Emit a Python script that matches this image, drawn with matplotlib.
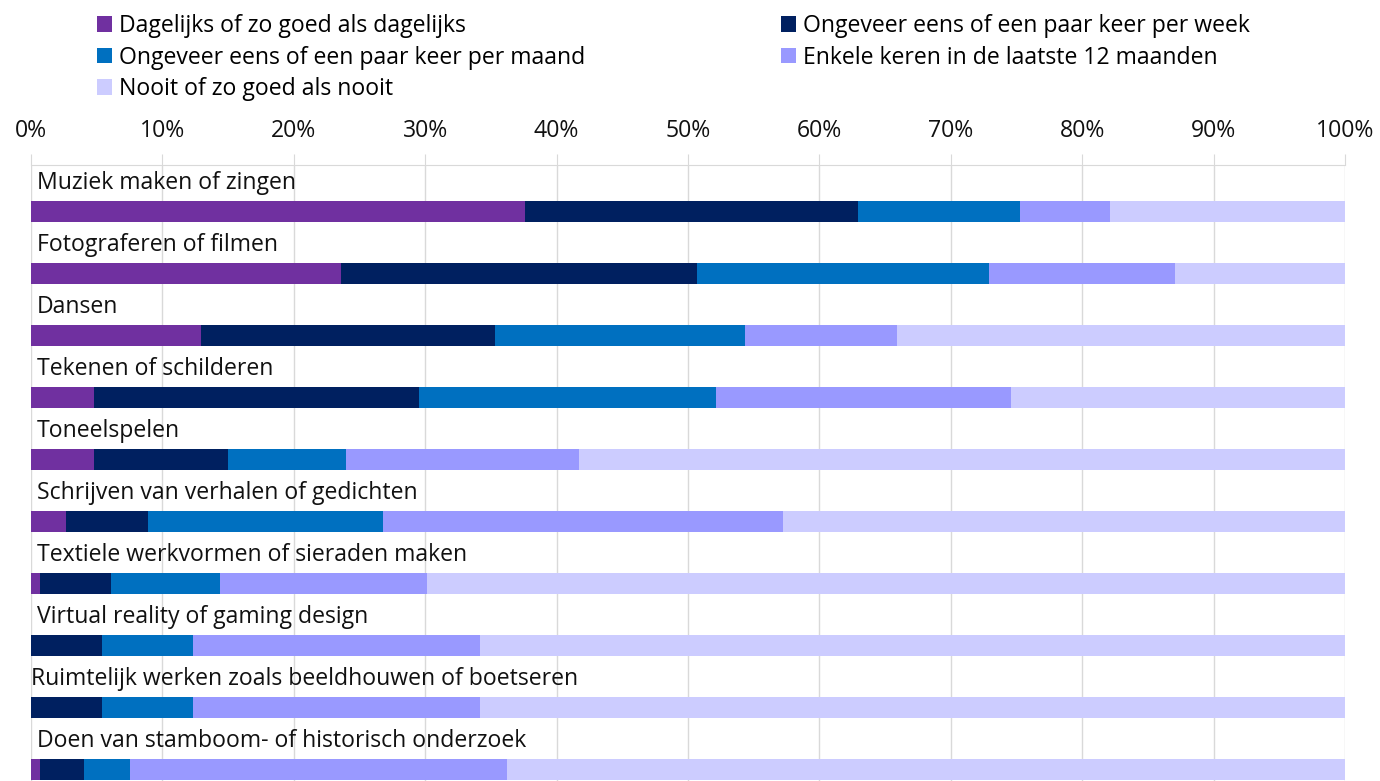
import numpy as np
import matplotlib
matplotlib.use("Agg")
import matplotlib.pyplot as plt

plt.rcParams['font.family'] = ['Open Sans', 'DejaVu Sans']

activiteiten = [
    "Muziek maken of zingen",
    "Fotograferen of filmen",
    "Dansen",
    "Tekenen of schilderen",
    "Toneelspelen",
    "Schrijven van verhalen of gedichten",
    "Textiele werkvormen of sieraden maken",
    "Virtual reality of gaming design",
    "Ruimtelijk werken zoals beeldhouwen of boetseren",
    "Doen van stamboom- of historisch onderzoek",
]

categorieen = [
    "Dagelijks of zo goed als dagelijks",
    "Ongeveer eens of een paar keer per week",
    "Ongeveer eens of een paar keer per maand",
    "Enkele keren in de laatste 12 maanden",
    "Nooit of zo goed als nooit",
]

# percentages per categorie (zelfde volgorde als activiteiten)
dagelijks = [37.6, 23.6, 12.9, 4.8, 4.8, 2.7, 0.7, 0.0, 0.0, 0.7]
wekelijks = [25.3, 27.1, 22.4, 24.7, 10.2, 6.2, 5.4, 5.4, 5.4, 3.3]
maandelijks = [12.4, 22.2, 19.0, 22.6, 9.0, 17.9, 8.3, 6.9, 6.9, 3.5]
enkele_keren = [6.8, 14.2, 11.6, 22.5, 17.7, 30.4, 15.7, 21.9, 21.9, 28.7]
nooit = [17.9, 12.9, 34.1, 25.4, 58.3, 42.8, 69.9, 65.8, 65.8, 63.8]

kleuren = ["#7030A0", "#002060", "#0070C0", "#9999FF", "#CCCCFF"]

reeksen = [dagelijks, wekelijks, maandelijks, enkele_keren, nooit]

FS = 16.6
fig = plt.figure(figsize=(13.8, 7.81), dpi=100)
ax = fig.add_axes([31 / 1380, 0, (1345 - 31) / 1380, (781 - 165) / 781])

y = np.arange(len(activiteiten))
links = np.zeros(len(activiteiten))
handles = []
for naam, waarden, kleur in zip(categorieen, reeksen, kleuren):
    b = ax.barh(y, waarden, left=links, height=0.34, color=kleur, label=naam, zorder=3)
    handles.append(b)
    links += np.array(waarden)

for i, label in enumerate(activiteiten):
    x0 = 0.0 if label.startswith("Ruimtelijk") else 0.45
    ax.text(x0, i - 0.46, label, ha='left', va='center', fontsize=FS, color='#111111', zorder=4)

ax.set_xlim(0, 100)
ax.set_ylim(9.18, -0.75)
ax.set_xticks(np.arange(0, 101, 10))
ax.set_xticklabels([f"{v}%" for v in range(0, 101, 10)], fontsize=FS, color='#111111')
ax.xaxis.tick_top()
ax.tick_params(axis='x', length=8, color='#d9d9d9', pad=8)
ax.set_yticks([])
ax.grid(axis='x', color='#d9d9d9', linewidth=1, zorder=0)
for s in ['bottom', 'left', 'right']:
    ax.spines[s].set_visible(False)
ax.spines['top'].set_color('#d9d9d9')

# legenda in twee kolommen, rijvolgorde zoals in het origineel
volgorde = [0, 2, 4, 1, 3]
fig.legend([handles[i] for i in volgorde], [categorieen[i] for i in volgorde],
           ncol=2, loc='upper left', bbox_to_anchor=(88 / 1380, 1 - 5 / 781),
           frameon=False, fontsize=FS, handlelength=0.65, handleheight=0.65,
           handletextpad=0.3, labelspacing=0.32, columnspacing=8.5,
           borderaxespad=0)

fig.savefig("out.png", dpi=100)
